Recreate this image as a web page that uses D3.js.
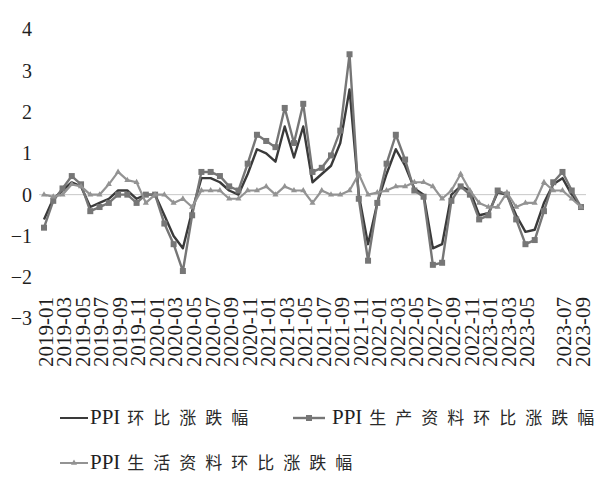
<!DOCTYPE html>
<html><head><meta charset="utf-8">
<script src="https://cdn.jsdelivr.net/npm/d3@7"></script>
<style>html,body{margin:0;padding:0;background:#fff;}</style>
</head><body>
<svg id="chart" width="615" height="485"></svg>
<script>
const months = [
"2019-01","2019-02","2019-03","2019-04","2019-05","2019-06","2019-07","2019-08","2019-09","2019-10","2019-11","2019-12",
"2020-01","2020-02","2020-03","2020-04","2020-05","2020-06","2020-07","2020-08","2020-09","2020-10","2020-11","2020-12",
"2021-01","2021-02","2021-03","2021-04","2021-05","2021-06","2021-07","2021-08","2021-09","2021-10","2021-11","2021-12",
"2022-01","2022-02","2022-03","2022-04","2022-05","2022-06","2022-07","2022-08","2022-09","2022-10","2022-11","2022-12",
"2023-01","2023-02","2023-03","2023-04","2023-05","2023-06","2023-07","2023-08","2023-09","2023-10","2023-11"];

const tickLabels = [
"2019-01","2019-03","2019-05","2019-07","2019-09","2019-11",
"2020-01","2020-03","2020-05","2020-07","2020-09","2020-11",
"2021-01","2021-03","2021-05","2021-07","2021-09","2021-11",
"2022-01","2022-03","2022-05","2022-07","2022-09","2022-11",
"2023-01","2023-03","2023-05","","2023-07","2023-09"];

const yTicks = [-3,-2,-1,0,1,2,3,4];

const ppiMoM = [
-0.6,-0.1,0.1,0.3,0.2,-0.3,-0.2,-0.1,0.1,0.1,-0.1,0.0,
0.0,-0.5,-1.0,-1.3,-0.4,0.4,0.4,0.3,0.1,0.0,0.5,1.1,
1.0,0.8,1.65,0.9,1.65,0.3,0.5,0.7,1.25,2.55,0.0,-1.2,
-0.2,0.5,1.1,0.7,0.15,0.0,-1.3,-1.2,0.0,0.2,0.1,-0.5,
-0.45,0.05,0.0,-0.5,-0.9,-0.85,-0.2,0.25,0.4,0.0,-0.3];

const producerMoM = [
-0.8,-0.15,0.15,0.45,0.25,-0.4,-0.3,-0.2,0.0,0.0,-0.2,0.0,
0.0,-0.7,-1.2,-1.85,-0.5,0.55,0.55,0.45,0.2,0.1,0.75,1.45,
1.3,1.15,2.1,1.25,2.2,0.55,0.65,0.95,1.55,3.4,-0.1,-1.6,
-0.2,0.75,1.45,0.85,0.1,-0.05,-1.7,-1.65,-0.15,0.2,0.0,-0.6,
-0.5,0.1,0.0,-0.6,-1.2,-1.1,-0.4,0.3,0.55,0.1,-0.3];

const consumerMoM = [
0.0,-0.05,0.0,0.25,0.2,0.0,0.0,0.25,0.55,0.35,0.3,-0.2,
0.0,0.0,-0.2,-0.1,-0.3,0.1,0.1,0.1,-0.1,-0.1,0.1,0.1,
0.2,0.0,0.2,0.1,0.1,-0.2,0.1,0.0,0.0,0.1,0.5,0.0,
0.05,0.1,0.2,0.2,0.3,0.3,0.2,-0.1,0.1,0.5,0.1,-0.2,
-0.3,-0.3,0.05,-0.3,-0.2,-0.2,0.3,0.1,0.1,-0.1,-0.3];

const seriesNames = ["PPI 环比涨跌幅","PPI 生产资料环比涨跌幅","PPI 生活资料环比涨跌幅"];

const svg = d3.select("#chart");
const x = d3.scalePoint().domain(months).range([44, 581]);
const y = d3.scaleLinear().domain([-3, 4]).range([318.5, 29.5]);

const C_DARK = "#3a3a3a", C_PROD = "#767676", C_CONS = "#939393";
const SERIF = "'Liberation Serif','Times New Roman',serif";
const CJK = "'Noto Sans CJK SC','Noto Sans CJK JP',sans-serif";

// zero line
svg.append("line").attr("x1", 39).attr("x2", 586).attr("y1", y(0)).attr("y2", y(0))
  .attr("stroke", "#c8c8c8").attr("stroke-width", 1);

// y axis labels
const yAxis = d3.axisLeft(y).tickValues(yTicks).tickFormat(d3.format("d")).tickSize(0).tickPadding(0);
const gy = svg.append("g").attr("transform", "translate(32,0)").call(yAxis);
gy.select(".domain").remove();
gy.selectAll("text").attr("font-family", SERIF).attr("font-size", 20).attr("fill", "#1f1f1f");

// x axis labels
const tickMonths = months.filter((d, i) => i % 2 === 0);
const xAxis = d3.axisBottom(x).tickValues(tickMonths)
  .tickFormat((d, i) => tickLabels[i]).tickSize(0).tickPadding(0);
const gx = svg.append("g").attr("transform", "translate(1,297)").call(xAxis);
gx.select(".domain").remove();
gx.selectAll("text")
  .attr("font-family", SERIF).attr("font-size", 21).attr("fill", "#1f1f1f")
  .attr("transform", "rotate(-90)")
  .attr("text-anchor", "end").attr("x", 0).attr("y", 0).attr("dy", "0.35em");

const line = d3.line().x((d, i) => x(months[i])).y(d => y(d));

// dark overall
svg.append("path").datum(ppiMoM).attr("d", line)
  .attr("fill", "none").attr("stroke", C_DARK).attr("stroke-width", 2.4).attr("stroke-linejoin", "round");

// producer goods
svg.append("path").datum(producerMoM).attr("d", line)
  .attr("fill", "none").attr("stroke", C_PROD).attr("stroke-width", 2.4).attr("stroke-linejoin", "round");
svg.append("g").selectAll("rect").data(producerMoM).join("rect")
  .attr("x", (d, i) => x(months[i]) - 3).attr("y", d => y(d) - 3)
  .attr("width", 6).attr("height", 6).attr("fill", C_PROD);

// consumer goods
svg.append("path").datum(consumerMoM).attr("d", line)
  .attr("fill", "none").attr("stroke", C_CONS).attr("stroke-width", 2.2).attr("stroke-linejoin", "round");
const tri = d3.symbol().type(d3.symbolTriangle).size(16);
svg.append("g").selectAll("path").data(consumerMoM).join("path")
  .attr("d", tri).attr("transform", (d, i) => `translate(${x(months[i])},${y(d)})`).attr("fill", C_CONS);

// legend
function legendText(g, tx, ty, name) {
  const parts = name.split(" ");
  const t = g.append("text").attr("x", tx).attr("y", ty).attr("dy", "0.35em").attr("fill", "#1f1f1f");
  t.append("tspan").attr("font-family", SERIF).attr("font-size", 21).text(parts[0]);
  t.append("tspan").attr("dx", 7).attr("font-family", CJK).attr("font-size", 17)
    .attr("letter-spacing", 9).attr("fill", "#2a2a2a").text(parts[1]);
}
const lg = svg.append("g");
lg.append("line").attr("x1", 60).attr("x2", 88).attr("y1", 418).attr("y2", 418).attr("stroke", C_DARK).attr("stroke-width", 2);
legendText(lg, 90, 418, seriesNames[0]);
lg.append("line").attr("x1", 293).attr("x2", 325).attr("y1", 418).attr("y2", 418).attr("stroke", C_PROD).attr("stroke-width", 2.4);
lg.append("rect").attr("x", 306).attr("y", 415).attr("width", 6).attr("height", 6).attr("fill", C_PROD);
legendText(lg, 332, 418, seriesNames[1]);
lg.append("line").attr("x1", 60).attr("x2", 88).attr("y1", 463).attr("y2", 463).attr("stroke", C_CONS).attr("stroke-width", 2);
lg.append("path").attr("d", tri).attr("transform", "translate(74,463)").attr("fill", C_CONS);
legendText(lg, 90, 463, seriesNames[2]);
</script>
</body></html>
